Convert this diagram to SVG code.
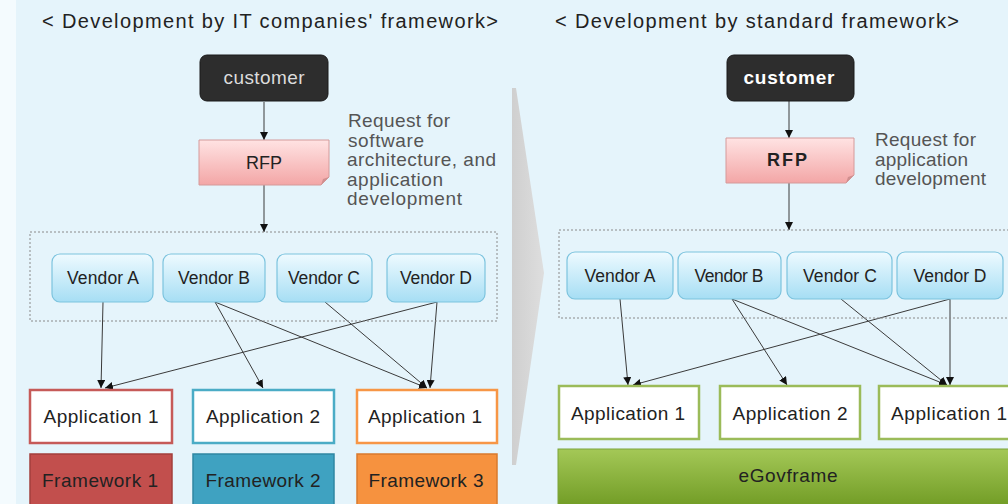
<svg xmlns="http://www.w3.org/2000/svg" width="1008" height="504" viewBox="0 0 1008 504">
<defs>
<style>
text{font-family:"Liberation Sans",Arial,sans-serif;}
.title{font-size:20px;fill:#222;}
.note{font-size:19px;fill:#555;}
.cust{fill:#2d2d2d;stroke:#1a1a1a;stroke-width:1;}
.rfp{fill:url(#gRfp);stroke:#d49a9a;stroke-width:1;}
.vend{fill:url(#gVend);stroke:#7cc3de;stroke-width:1.2;}
.vt{font-size:17.5px;fill:#222;text-anchor:middle;}
.at{font-size:19px;fill:#222;text-anchor:middle;}
.app{fill:#fff;stroke-width:2.5;}
.dash{fill:none;stroke:#8a8a8a;stroke-width:1;stroke-dasharray:2 2;}
.conn line{stroke:#3a3a3a;stroke-width:1;marker-end:url(#arr);}
</style>
<linearGradient id="gRfp" x1="0" y1="0" x2="0" y2="1"><stop offset="0" stop-color="#ffe3e3"/><stop offset="1" stop-color="#f3a6a6"/></linearGradient>
<linearGradient id="gVend" x1="0" y1="0" x2="0" y2="1"><stop offset="0" stop-color="#eefaff"/><stop offset="1" stop-color="#a6def4"/></linearGradient>
<linearGradient id="gEgov" x1="0" y1="0" x2="0" y2="1"><stop offset="0" stop-color="#a4c857"/><stop offset="1" stop-color="#6f9a23"/></linearGradient>
<linearGradient id="gChev" x1="0" y1="0" x2="1" y2="0"><stop offset="0" stop-color="#cfcfcf"/><stop offset="1" stop-color="#dedede"/></linearGradient>
<marker id="arr" markerUnits="userSpaceOnUse" markerWidth="9" markerHeight="8" refX="8" refY="4" orient="auto"><path d="M0,0 L8,4 L0,8 z" fill="#111"/></marker>
</defs>
<rect x="0" y="0" width="1008" height="504" fill="#e5f4fb"/>
<rect x="0" y="0" width="16" height="504" fill="#f4fbfe"/>
<polygon id="chevron" points="512,88 516,88 544,273 516,465 512,465" fill="url(#gChev)"/>

<text class="title" x="42" y="28" textLength="456" lengthAdjust="spacing">&lt; Development by IT companies' framework&gt;</text>
<text class="title" x="555" y="28" textLength="404" lengthAdjust="spacing">&lt; Development by standard framework&gt;</text>

<g id="connectors" class="conn">
<line x1="264" y1="102" x2="264" y2="140"/>
<line x1="264" y1="185" x2="264" y2="232"/>
<line x1="103" y1="302" x2="101" y2="388"/>
<line x1="215" y1="302" x2="263" y2="388"/>
<line x1="215" y1="302" x2="427" y2="388"/>
<line x1="325" y1="302" x2="427" y2="388"/>
<line x1="437" y1="302" x2="105" y2="388"/>
<line x1="437" y1="302" x2="430" y2="388"/>
<line x1="789" y1="101" x2="789" y2="138"/>
<line x1="789" y1="183" x2="789" y2="230"/>
<line x1="620" y1="299" x2="628" y2="385"/>
<line x1="732" y1="299" x2="787" y2="385"/>
<line x1="732" y1="299" x2="947" y2="385"/>
<line x1="841" y1="299" x2="947" y2="385"/>
<line x1="950" y1="299" x2="633" y2="385"/>
<line x1="950" y1="299" x2="950" y2="385"/>
</g>

<!-- left side -->
<g id="customerL"><rect class="cust" x="200" y="55" width="128" height="46" rx="7"/><text x="264" y="84" font-size="19" fill="#dcdcdc" text-anchor="middle" textLength="81" lengthAdjust="spacing">customer</text></g>
<g id="rfpL"><path class="rfp" d="M199,140 H329 V177 L321,185 H199 Z"/><path d="M321,185 L323,179 L329,177 Z" fill="#d08f8f"/><text x="264" y="169" font-size="18" fill="#222" text-anchor="middle">RFP</text></g>
<g id="noteL">
<text class="note" x="348" y="127" textLength="102" lengthAdjust="spacing">Request for</text>
<text class="note" x="348" y="146.5" textLength="76" lengthAdjust="spacing">software</text>
<text class="note" x="347" y="166" textLength="149" lengthAdjust="spacing">architecture, and</text>
<text class="note" x="347" y="185.5" textLength="96" lengthAdjust="spacing">application</text>
<text class="note" x="347" y="205" textLength="115" lengthAdjust="spacing">development</text>
</g>
<rect id="vendorGroupL" class="dash" x="30" y="232" width="467" height="89"/>
<g id="vendorAL"><rect class="vend" x="52" y="254" width="101" height="48" rx="8"/><text class="vt" x="103" y="284" textLength="72" lengthAdjust="spacing">Vendor A</text></g>
<g id="vendorBL"><rect class="vend" x="163" y="254" width="102" height="48" rx="8"/><text class="vt" x="214" y="284" textLength="72" lengthAdjust="spacing">Vendor B</text></g>
<g id="vendorCL"><rect class="vend" x="277" y="254" width="95" height="48" rx="8"/><text class="vt" x="324" y="284" textLength="72" lengthAdjust="spacing">Vendor C</text></g>
<g id="vendorDL"><rect class="vend" x="387" y="254" width="98" height="48" rx="8"/><text class="vt" x="436" y="284" textLength="72" lengthAdjust="spacing">Vendor D</text></g>
<g id="app1L"><rect class="app" x="30" y="390" width="142" height="53" stroke="#c65a58"/><text class="at" x="101" y="423" textLength="115" lengthAdjust="spacing">Application 1</text></g>
<g id="app2L"><rect class="app" x="193" y="390" width="141" height="53" stroke="#4bacc6"/><text class="at" x="263" y="423" textLength="114" lengthAdjust="spacing">Application 2</text></g>
<g id="app3L"><rect class="app" x="357" y="390" width="140" height="53" stroke="#f79646"/><text class="at" x="425" y="423" textLength="114" lengthAdjust="spacing">Application 1</text></g>
<g id="fw1"><rect x="30" y="454" width="142" height="56" fill="#c24f4d" stroke="#a33f3d" stroke-width="1.5"/><text class="at" x="100" y="487" textLength="116" lengthAdjust="spacing">Framework 1</text></g>
<g id="fw2"><rect x="193" y="454" width="141" height="56" fill="#3fa2c1" stroke="#2f86a3" stroke-width="1.5"/><text class="at" x="263" y="487" textLength="115" lengthAdjust="spacing">Framework 2</text></g>
<g id="fw3"><rect x="357" y="454" width="140" height="56" fill="#f6923f" stroke="#d97a2e" stroke-width="1.5"/><text class="at" x="426" y="487" textLength="115" lengthAdjust="spacing">Framework 3</text></g>

<!-- right side -->
<g id="customerR"><rect class="cust" x="727" y="55" width="127" height="46" rx="7"/><text x="789" y="84" font-size="19" font-weight="bold" fill="#fff" text-anchor="middle" textLength="91" lengthAdjust="spacing">customer</text></g>
<g id="rfpR"><path class="rfp" d="M726,138 H854 V175 L846,183 H726 Z"/><path d="M846,183 L848,177 L854,175 Z" fill="#d08f8f"/><text x="787" y="166" font-size="18" font-weight="bold" fill="#222" text-anchor="middle" textLength="40" lengthAdjust="spacing">RFP</text></g>
<g id="noteR">
<text class="note" x="875" y="146" textLength="101" lengthAdjust="spacing">Request for</text>
<text class="note" x="875" y="165.5" textLength="93" lengthAdjust="spacing">application</text>
<text class="note" x="875" y="185" textLength="111" lengthAdjust="spacing">development</text>
</g>
<rect id="vendorGroupR" class="dash" x="559" y="230" width="460" height="88"/>
<g id="vendorAR"><rect class="vend" x="567" y="252" width="106" height="47" rx="8"/><text class="vt" x="620" y="282" textLength="71" lengthAdjust="spacing">Vendor A</text></g>
<g id="vendorBR"><rect class="vend" x="678" y="252" width="103" height="47" rx="8"/><text class="vt" x="729" y="282" textLength="69" lengthAdjust="spacing">Vendor B</text></g>
<g id="vendorCR"><rect class="vend" x="787" y="252" width="105" height="47" rx="8"/><text class="vt" x="840" y="282" textLength="74" lengthAdjust="spacing">Vendor C</text></g>
<g id="vendorDR"><rect class="vend" x="897" y="252" width="106" height="47" rx="8"/><text class="vt" x="950" y="282" textLength="73" lengthAdjust="spacing">Vendor D</text></g>
<g id="app1R"><rect class="app" x="559" y="386" width="140" height="53" stroke="#9bbb59"/><text class="at" x="628" y="420" textLength="114" lengthAdjust="spacing">Application 1</text></g>
<g id="app2R"><rect class="app" x="720" y="386" width="140" height="53" stroke="#9bbb59"/><text class="at" x="790" y="420" textLength="115" lengthAdjust="spacing">Application 2</text></g>
<g id="app3R"><rect class="app" x="879" y="386" width="140" height="53" stroke="#9bbb59"/><text class="at" x="949" y="420" textLength="116" lengthAdjust="spacing">Application 1</text></g>
<g id="egov"><rect x="558" y="449" width="460" height="60" fill="url(#gEgov)" stroke="#7da33a" stroke-width="1"/><text class="at" x="788" y="482" textLength="99" lengthAdjust="spacing">eGovframe</text></g>
</svg>
